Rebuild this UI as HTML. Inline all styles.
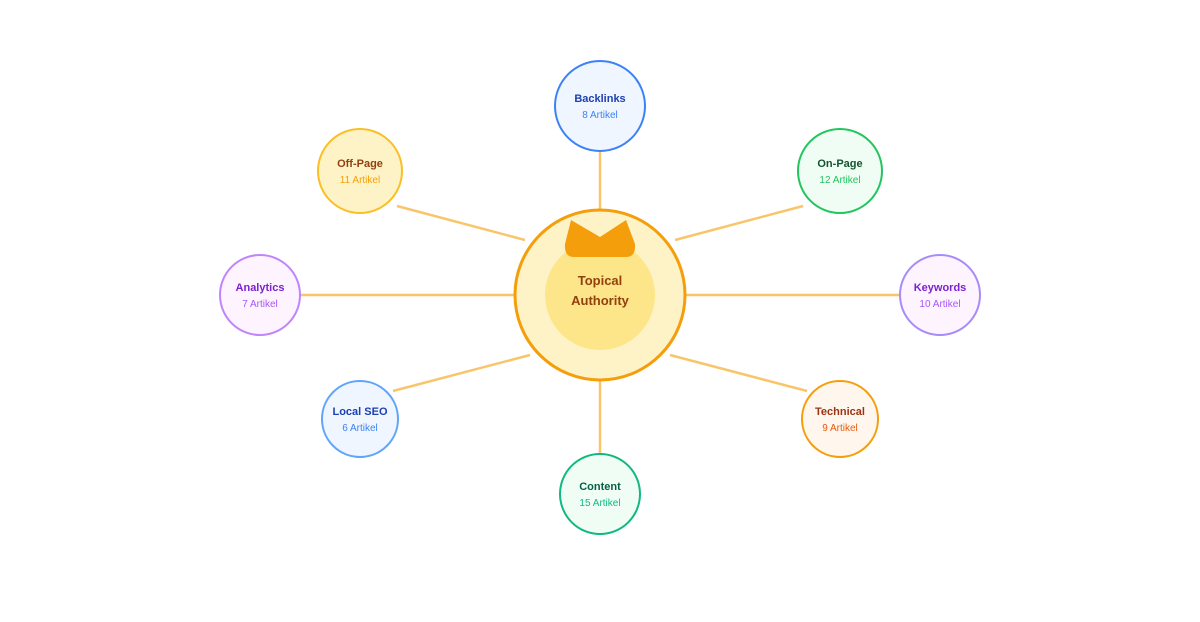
<!DOCTYPE html>
<html><head><meta charset="utf-8"><style>
html,body{margin:0;padding:0;background:#fff;}
svg{display:block;font-family:"Liberation Sans",sans-serif;}
</style></head><body>
<svg width="1200" height="622" viewBox="0 0 1200 622">
<g stroke="#f9c56a" stroke-width="2.5" stroke-linecap="butt">
<line x1="600" y1="152" x2="600" y2="210"/>
<line x1="675" y1="240" x2="803" y2="206"/>
<line x1="686" y1="295" x2="900" y2="295"/>
<line x1="670" y1="355" x2="807" y2="391"/>
<line x1="600" y1="380" x2="600" y2="454"/>
<line x1="530" y1="355" x2="393" y2="391"/>
<line x1="300" y1="295" x2="514" y2="295"/>
<line x1="525" y1="240" x2="397" y2="206"/>
</g>
<circle cx="600" cy="295" r="85" fill="#fef3c7" stroke="#f59e0b" stroke-width="3"/>
<circle cx="600" cy="295" r="55" fill="#fde68a"/>
<path d="M571,220 L600,237 L626,220 L635,244 Q636,257 626,257 L574,257 Q564,257 565,244 Z" fill="#f59e0b"/>
<text x="600" y="285" text-anchor="middle" font-size="13" font-weight="bold" fill="#92400e">Topical</text>
<text x="600" y="305" text-anchor="middle" font-size="13" font-weight="bold" fill="#92400e">Authority</text>

<g font-size="11" text-anchor="middle">
<circle cx="600" cy="106" r="45" fill="#eff6ff" stroke="#3b82f6" stroke-width="2"/>
<text x="600" y="102" font-weight="bold" fill="#1e40af">Backlinks</text>
<text x="600" y="118" font-size="10" fill="#3b82f6">8 Artikel</text>

<circle cx="840" cy="171" r="42" fill="#f0fdf4" stroke="#22c55e" stroke-width="2"/>
<text x="840" y="167" font-weight="bold" fill="#14532d">On-Page</text>
<text x="840" y="183" font-size="10" fill="#22c55e">12 Artikel</text>

<circle cx="940" cy="295" r="40" fill="#fdf4ff" stroke="#a78bfa" stroke-width="2"/>
<text x="940" y="291" font-weight="bold" fill="#7e22ce">Keywords</text>
<text x="940" y="307" font-size="10" fill="#a855f7">10 Artikel</text>

<circle cx="840" cy="419" r="38" fill="#fff7ed" stroke="#f59e0b" stroke-width="2"/>
<text x="840" y="415" font-weight="bold" fill="#9a3412">Technical</text>
<text x="840" y="431" font-size="10" fill="#ea580c">9 Artikel</text>

<circle cx="600" cy="494" r="40" fill="#f0fdf4" stroke="#10b981" stroke-width="2"/>
<text x="600" y="490" font-weight="bold" fill="#065f46">Content</text>
<text x="600" y="506" font-size="10" fill="#10b981">15 Artikel</text>

<circle cx="360" cy="419" r="38" fill="#eff6ff" stroke="#60a5fa" stroke-width="2"/>
<text x="360" y="415" font-weight="bold" fill="#1e40af">Local SEO</text>
<text x="360" y="431" font-size="10" fill="#3b82f6">6 Artikel</text>

<circle cx="260" cy="295" r="40" fill="#fdf4ff" stroke="#c084fc" stroke-width="2"/>
<text x="260" y="291" font-weight="bold" fill="#7e22ce">Analytics</text>
<text x="260" y="307" font-size="10" fill="#a855f7">7 Artikel</text>

<circle cx="360" cy="171" r="42" fill="#fef3c7" stroke="#fbbf24" stroke-width="2"/>
<text x="360" y="167" font-weight="bold" fill="#92400e">Off-Page</text>
<text x="360" y="183" font-size="10" fill="#f59e0b">11 Artikel</text>
</g>
</svg>
</body></html>
